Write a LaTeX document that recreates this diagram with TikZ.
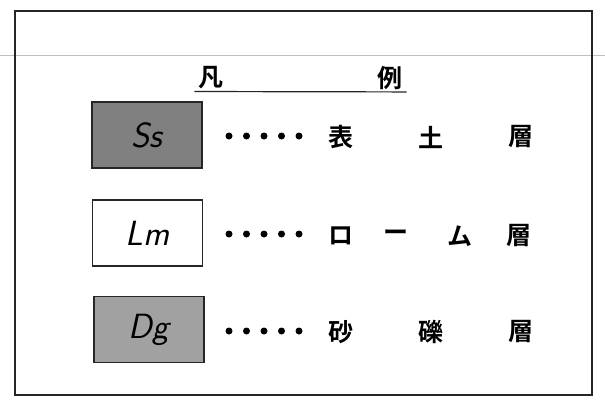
\documentclass[tikz,border=0pt]{standalone}
\usepackage{fontspec}
\newfontfamily\cjk{Noto Sans CJK JP}[BoldFont={* Bold}]
\begin{document}
\begin{tikzpicture}[x=1pt,y=-1pt,
  legbox/.style={draw=black!85,line width=1.6pt,minimum width=110pt,minimum height=66pt,inner sep=0pt,
    font=\fontsize{35}{37}\selectfont\sffamily\itshape,text=black},
  jp/.style={font=\fontsize{25}{27}\selectfont\cjk\bfseries,inner sep=0pt},
  dot/.style={circle,fill=black,inner sep=0pt,minimum size=7pt}]
\useasboundingbox (0,0) rectangle (605,405);
\fill[white] (0,0) rectangle (605,405);
% scan line
\draw[black!25,line width=1pt] (0,55) -- (605,55);
% frame
\draw[black!85,line width=1.6pt] (15,11) rectangle (592,395);
% title
\node[jp] (t1) at (211,78) {凡};
\node[jp] (t2) at (390,78) {例};
\draw[black!85,line width=1.2pt] (t1.south west) ++(-4,2) coordinate (u1);
\draw[black!85,line width=1.2pt] (t2.south east) ++(4,2) coordinate (u2);
\draw[black!85,line width=1.2pt] (u1) -- (u2);
% boxes
\node[legbox,fill=black!50] (ss) at (147,135) {Ss};
\node[legbox,fill=white] (lm) at (147.5,233) {Lm};
\node[legbox,fill=black!37] (dg) at (149,329.5) {Dg};
% dots
\foreach \r/\y in {1/136,2/234,3/331}{
  \foreach \i in {0,...,4}{
    \node[dot] (d\r\i) at (229+\i*17.5,\y) {};
  }
}
% texts
\node[jp] (a1) at (341,137) {表};
\node[jp] (a2) at (431,137) {土};
\node[jp] (a3) at (521,137) {層};
\node[jp] (b1) at (341,236) {ロ};
\node[jp] (b2) at (396,236) {ー};
\node[jp] (b3) at (460,236) {ム};
\node[jp] (b4) at (519,236) {層};
\node[jp] (c1) at (341,332) {砂};
\node[jp] (c2) at (431,332) {礫};
\node[jp] (c3) at (521,332) {層};
\end{tikzpicture}
\end{document}
